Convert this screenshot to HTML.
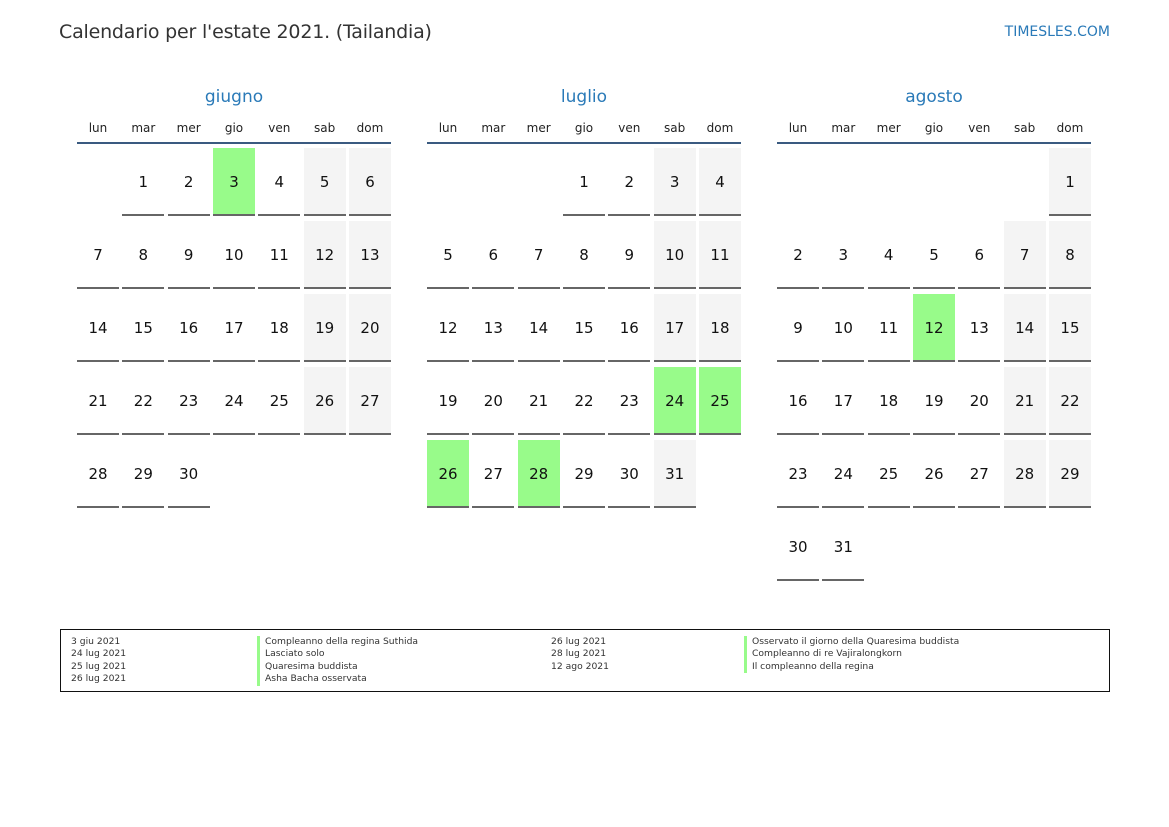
<!DOCTYPE html>
<html><head><meta charset="utf-8"><style>
body{margin:0;width:1169px;height:827px;background:#fff;font-family:"DejaVu Sans","Liberation Sans",sans-serif;position:relative;overflow:hidden}
.t{position:absolute;left:59px;top:21px;font-size:19px;color:#333;letter-spacing:-0.2px}
.s{position:absolute;right:59px;top:24px;font-size:14px;color:#2a7ab8}
.m{position:absolute;top:86px;width:314px}
.mt{text-align:center;font-size:17px;color:#2a7ab8;height:24px;line-height:22px}
.dn{display:grid;grid-template-columns:repeat(7,42px);column-gap:3.33px;font-size:12px;color:#222;text-align:center;height:32px;line-height:36px;border-bottom:2px solid #3a5a80}
.g{display:grid;grid-template-columns:repeat(7,42px);grid-auto-rows:68px;column-gap:3.33px;row-gap:5px;margin-top:4px}
.g div{text-align:center;line-height:68px;font-size:15px;color:#111;border-bottom:2px solid #666;box-sizing:border-box}
.g div.e{border-bottom:none}
.g div.w{background:#f4f4f4}
.g div.h{background:#98fb8a}
.lg{position:absolute;left:60px;top:629px;width:1048px;height:61px;border:1px solid #111;font-size:9.2px;color:#333}
.lg div{position:absolute;line-height:12.4px}
.b{border-left:3px solid #98fb8a;padding-left:5px}
</style></head><body>
<div class="t">Calendario per l'estate 2021. (Tailandia)</div>
<div class="s">TIMESLES.COM</div>

<div class="m" style="left:77px"><div class="mt">giugno</div>
<div class="dn"><span>lun</span><span>mar</span><span>mer</span><span>gio</span><span>ven</span><span>sab</span><span>dom</span></div>
<div class="g">
<div class="e"></div><div>1</div><div>2</div><div class="h">3</div><div>4</div><div class="w">5</div><div class="w">6</div>
<div>7</div><div>8</div><div>9</div><div>10</div><div>11</div><div class="w">12</div><div class="w">13</div>
<div>14</div><div>15</div><div>16</div><div>17</div><div>18</div><div class="w">19</div><div class="w">20</div>
<div>21</div><div>22</div><div>23</div><div>24</div><div>25</div><div class="w">26</div><div class="w">27</div>
<div>28</div><div>29</div><div>30</div>
</div></div>

<div class="m" style="left:427px"><div class="mt">luglio</div>
<div class="dn"><span>lun</span><span>mar</span><span>mer</span><span>gio</span><span>ven</span><span>sab</span><span>dom</span></div>
<div class="g">
<div class="e"></div><div class="e"></div><div class="e"></div><div>1</div><div>2</div><div class="w">3</div><div class="w">4</div>
<div>5</div><div>6</div><div>7</div><div>8</div><div>9</div><div class="w">10</div><div class="w">11</div>
<div>12</div><div>13</div><div>14</div><div>15</div><div>16</div><div class="w">17</div><div class="w">18</div>
<div>19</div><div>20</div><div>21</div><div>22</div><div>23</div><div class="h">24</div><div class="h">25</div>
<div class="h">26</div><div>27</div><div class="h">28</div><div>29</div><div>30</div><div class="w">31</div>
</div></div>

<div class="m" style="left:777px"><div class="mt">agosto</div>
<div class="dn"><span>lun</span><span>mar</span><span>mer</span><span>gio</span><span>ven</span><span>sab</span><span>dom</span></div>
<div class="g">
<div class="e"></div><div class="e"></div><div class="e"></div><div class="e"></div><div class="e"></div><div class="e"></div><div class="w">1</div>
<div>2</div><div>3</div><div>4</div><div>5</div><div>6</div><div class="w">7</div><div class="w">8</div>
<div>9</div><div>10</div><div>11</div><div class="h">12</div><div>13</div><div class="w">14</div><div class="w">15</div>
<div>16</div><div>17</div><div>18</div><div>19</div><div>20</div><div class="w">21</div><div class="w">22</div>
<div>23</div><div>24</div><div>25</div><div>26</div><div>27</div><div class="w">28</div><div class="w">29</div>
<div>30</div><div>31</div>
</div></div>

<div class="lg">
<div style="left:10px;top:6px">3 giu 2021<br>24 lug 2021<br>25 lug 2021<br>26 lug 2021</div>
<div class="b" style="left:196px;top:6px">Compleanno della regina Suthida<br>Lasciato solo<br>Quaresima buddista<br>Asha Bacha osservata</div>
<div style="left:490px;top:6px">26 lug 2021<br>28 lug 2021<br>12 ago 2021</div>
<div class="b" style="left:683px;top:6px">Osservato il giorno della Quaresima buddista<br>Compleanno di re Vajiralongkorn<br>Il compleanno della regina</div>
</div>
</body></html>
